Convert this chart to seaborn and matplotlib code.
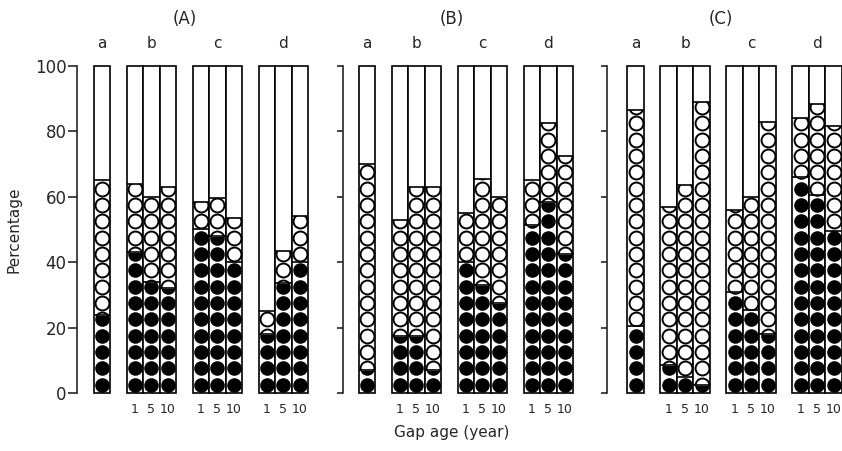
import numpy as np
import matplotlib.pyplot as plt
from matplotlib.patches import Rectangle
import seaborn as sns

panels = ["(A)", "(B)", "(C)"]
groups = ["a", "b", "c", "d"]
gap_ages = ["1", "5", "10"]

# bars in order: a, b1, b5, b10, c1, c5, c10, d1, d5, d10
# filled = top of the black-circle part, total = top of the open-circle part (%)
filled_A = [24, 43, 34, 32, 50, 48, 40, 18, 33.5, 40]
total_A = [65, 64, 60, 63, 58.5, 59.5, 53.5, 25, 43.5, 54]
filled_B = [7, 17.5, 17.5, 7, 40, 33, 27.5, 51.5, 58.5, 42.5]
total_B = [70, 53, 63, 63, 55, 65.5, 60, 65, 82.5, 72.5]
filled_C = [20.5, 8.5, 5, 2.5, 31, 25.5, 18, 66, 60.5, 49.5]
total_C = [86.5, 57, 63.5, 89, 56, 60, 83, 84, 88.5, 81.5]

filled_all = [filled_A, filled_B, filled_C]
total_all = [total_A, total_B, total_C]

bar_x = [1.5, 3.5, 4.5, 5.5, 7.5, 8.5, 9.5, 11.5, 12.5, 13.5]
group_x = [1.5, 4.5, 8.5, 12.5]
centers = np.arange(2.5, 100, 5)
rad = 2.2

sns.set_style("ticks")
plt.rcParams['font.family'] = ['DejaVu Sans']

W, H = 842, 451
fig = plt.figure(figsize=(W / 100, H / 100), dpi=100)
unit = 16.5
y0, y1 = 393, 66
# (left px, width px, x offset)
axes_px = [(77, 264, 0.0), (343, 264, 0.05), (607, 235, -0.23)]

for p, (left, width, off) in enumerate(axes_px):
    ax = fig.add_axes([left / W, (H - y0) / H, width / W, (y0 - y1) / H])
    filled = filled_all[p]
    total = total_all[p]
    for x, f, t in zip(bar_x, filled, total):
        ax.bar(x, 100, width=1, facecolor="white", edgecolor="black", lw=1.2,
               clip_on=False, zorder=1)
        ax.hlines([f, t], x - 0.5, x + 0.5, color="black", lw=1.2, zorder=3)

        # black circles, clipped to the lower part of the bar
        cs = centers[centers - rad < f]
        sns.scatterplot(x=[x] * len(cs), y=cs, ax=ax, s=110, color="black",
                        linewidth=0, zorder=2, legend=False)
        ax.collections[-1].set_clip_path(
            Rectangle((x - 0.5, 0), 1, f, transform=ax.transData))

        # open circles, clipped to the middle part
        co = centers[(centers + rad > f) & (centers - rad < t)]
        sns.scatterplot(x=[x] * len(co), y=co, ax=ax, s=100, color="white",
                        edgecolor="black", linewidth=1.4, zorder=2, legend=False)
        ax.collections[-1].set_clip_path(
            Rectangle((x - 0.5, f), 1, t - f, transform=ax.transData))

    ax.set_xlim(off, off + width / unit)
    ax.set_ylim(0, 100)
    sns.despine(ax=ax, bottom=True)
    ax.spines["left"].set_bounds(0, 100)
    ax.spines["left"].set_linewidth(1.2)
    ax.set_yticks(range(0, 101, 20))
    if p == 0:
        ax.tick_params(axis="y", length=6.5, width=1.2, labelsize=12, pad=1)
        ax.set_ylabel("Percentage", fontsize=11, labelpad=10)
    else:
        ax.set_yticklabels([])
        ax.tick_params(axis="y", length=4, width=1.2)
    ax.set_xticks(bar_x[1:])
    ax.set_xticklabels(gap_ages * 3, fontsize=9)
    ax.tick_params(axis="x", length=0, pad=7)

    for gx, g in zip(group_x, groups):
        ax.text(gx, 107, g, ha="center", va="center", fontsize=11, clip_on=False)
    ax.text(6.5 + (0.15 if p else 0), 114.5, panels[p], ha="center", va="center",
            fontsize=12, clip_on=False)

fig.text(452 / W, 1 - 432 / H, "Gap age (year)", ha="center", va="center", fontsize=11)

fig.savefig("out.png", dpi=100)
